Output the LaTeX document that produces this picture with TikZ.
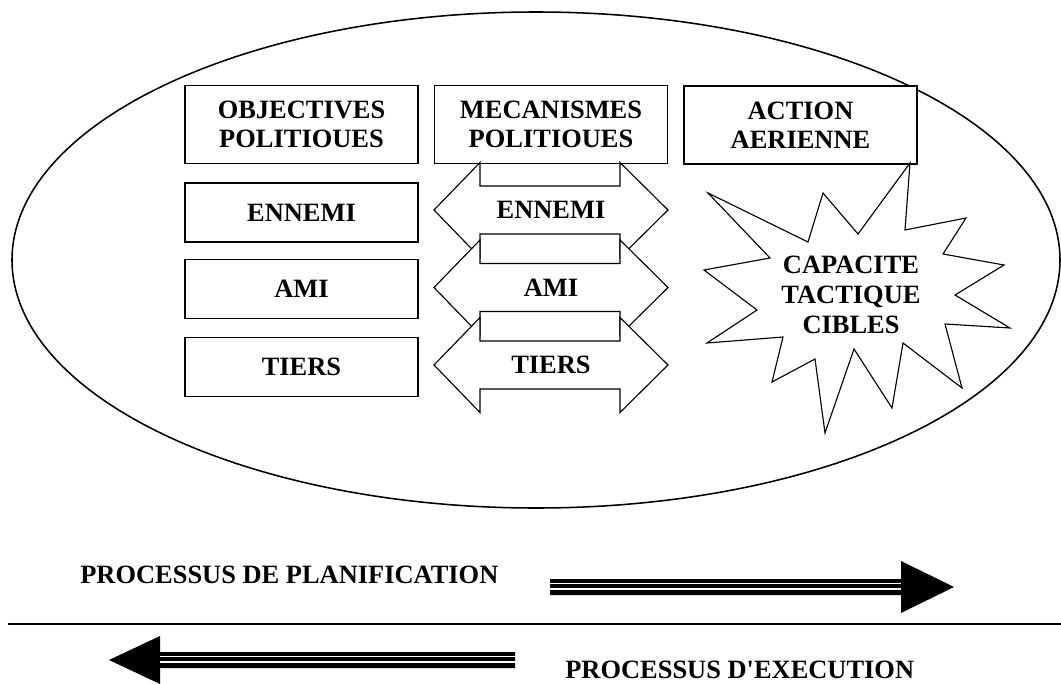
\documentclass[tikz,border=0pt]{standalone}
\usepackage{fontspec}
\setmainfont{Liberation Serif}
\usetikzlibrary{calc}
\def\flechedouble(#1)(#2)(#3){\draw[line width=0.8pt, fill=white] (434,#2) -- (480,#2-47.5) -- (480,#2-24) -- (620,#2-24) -- (620,#2-47.5) -- (668,#2) -- (620,#2+47.5) -- (620,#2+24) -- (480,#2+24) -- (480,#2+47.5) -- cycle; \node[texte] (#1) at (551,#2) {#3};}

\begin{document}
\begin{tikzpicture}[x=0.025cm, y=-0.025cm,
		texte/.style={font=\bfseries\fontsize{18.8}{20.8}\selectfont, align=center, inner sep=0pt},
		boite/.style={texte, draw, line width=0.8pt, fill=white, minimum width=5.825cm, minimum height=1.475cm}]
			%%%%% START %%%%%
			\useasboundingbox (0,0) rectangle (1061,684);
			
			\draw[line width=1.1pt] (536,260) ellipse [x radius=524, y radius=248];
			
			\node[boite, minimum height=1.95cm] (objectifs) at (301.5,124.5) {OBJECTIVES\\POLITIOUES};
			\node[boite] (ennemiG) at (301.5,212.5) {ENNEMI};
			\node[boite] (amiG) at (301.5,289) {AMI};
			\node[boite] (tiersG) at (301.5,367) {TIERS};
			
			\node[boite, minimum height=1.95cm] (mecanismes) at (551,124.5) {MECANISMES\\POLITIOUES};
			\flechedouble(ennemiM)(210)(ENNEMI)
			\flechedouble(amiM)(287.5)(AMI)
			\flechedouble(tiersM)(365)(TIERS)
			
			\node[boite, minimum height=1.95cm] (action) at (800.5,125) {ACTION\\AERIENNE};
			
			\draw[line width=0.8pt, fill=white] (910,163) -- (905,230) -- (966,218) -- (943,254) -- (1004,265) -- (955,295) -- (1010,328) -- (945,324) -- (962,388) -- (903,343) -- (892,408) -- (854,349) -- (825,433) -- (815,359) -- (772,382) -- (783,337) -- (707,343) -- (757,310) -- (704,270) -- (770,258) -- (708,193) -- (808,242) -- (823,193) -- (858,234) -- cycle;
			\node[texte, text width=4cm, font=\bfseries\fontsize{18.8}{21.3}\selectfont] (capacite) at (851,295) {CAPACITE\\TACTIQUE\\CIBLES};
			
			\node[texte, anchor=west] (planif) at (80,575) {PROCESSUS DE PLANIFICATION};
			\fill (550,579) -- (901,579) -- (901,561) -- (954,587) -- (901,613) -- (901,595) -- (550,595) -- cycle;
			\draw[white, line width=1.1pt] (550,583.5) -- (901,583.5);
			\draw[white, line width=1.1pt] (550,589) -- (901,589);
			
			\draw[line width=1pt] (8,624) -- (1061,624);
			
			\fill (515,652) -- (160,652) -- (160,636) -- (109,660) -- (160,684) -- (160,668) -- (515,668) -- cycle;
			\draw[white, line width=1.1pt] (160,656.5) -- (515,656.5);
			\draw[white, line width=1.1pt] (160,662) -- (515,662);
			\node[texte, anchor=west] (execution) at (565,670) {PROCESSUS D\textquotesingle EXECUTION};
			%%%%% END %%%%%
\end{tikzpicture}
\end{document}
